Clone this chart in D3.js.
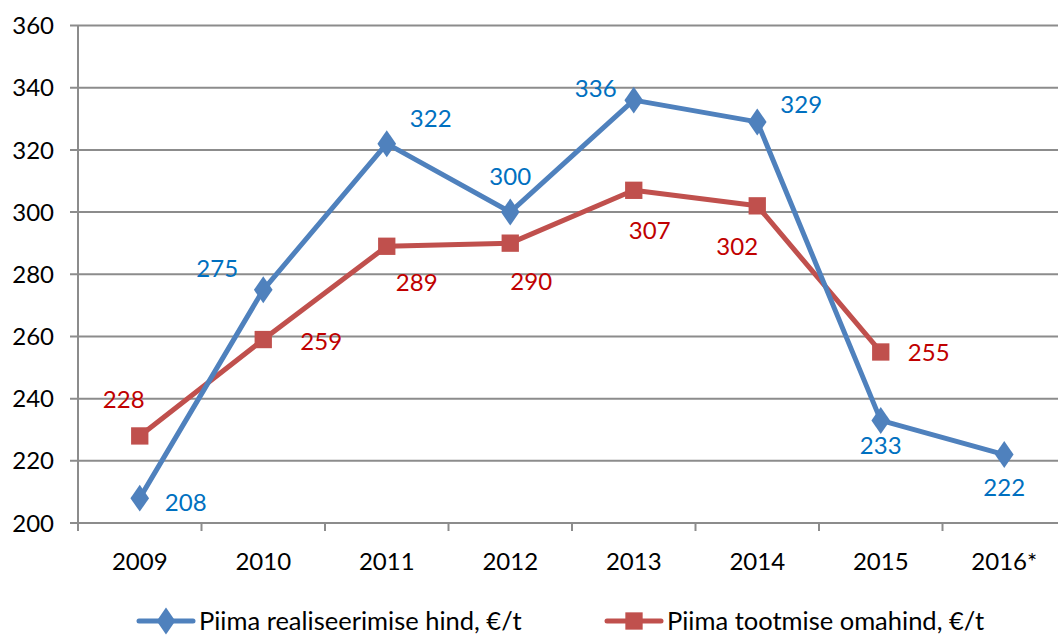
<!DOCTYPE html>
<html lang="et">
<head>
<meta charset="UTF-8">
<title>Piima hind</title>
<script src="https://cdn.jsdelivr.net/npm/d3@7"></script>
<style>
  body { margin: 0; background: #fff; }
  text { font-family: Lato, "Open Sans", sans-serif; }
</style>
</head>
<body>
<svg></svg>
<script>
const years = ['2009', '2010', '2011', '2012', '2013', '2014', '2015', '2016*'];
const realiseerimine = [208, 275, 322, 300, 336, 329, 233, 222];
const omahind = [228, 259, 289, 290, 307, 302, 255];
const yTicks = [200, 220, 240, 260, 280, 300, 320, 340, 360];
const seriesNames = ['Piima realiseerimise hind, €/t', 'Piima tootmise omahind, €/t'];

// label offsets (dx, dy) for each point
const blueLabelPos = [[46, 4], [-46, -21], [44, -25], [0, -36], [-38, -12], [44, -18], [0, 25], [0, 33]];
const redLabelPos = [[-16, -37], [58, 2], [30, 36], [21, 38], [16, 40], [-20, 41], [48, 0]];

const W = 1058, H = 637;
const m = { left: 78, top: 25.5, bottom: 523 };
const svg = d3.select('svg').attr('width', W).attr('height', H);

const x = d3.scaleBand().domain(years).range([m.left, m.left + 8 * 123.5]);
const y = d3.scaleLinear().domain([200, 360]).range([m.bottom, m.top]);

const grid = '#8c8c8c';
const fs = 24;

// gridlines + y ticks
svg.append('g').selectAll('line').data(yTicks).join('line')
  .attr('x1', m.left - 8).attr('x2', W)
  .attr('y1', d => y(d)).attr('y2', d => y(d))
  .attr('stroke', grid).attr('stroke-width', 2);

svg.append('g').selectAll('text').data(yTicks).join('text')
  .attr('x', 54).attr('y', d => y(d)).attr('dy', '0.36em')
  .attr('text-anchor', 'end').attr('font-size', fs).attr('fill', '#000')
  .text(d => d);

// y axis line
svg.append('line').attr('x1', m.left).attr('x2', m.left)
  .attr('y1', m.top).attr('y2', m.bottom + 8)
  .attr('stroke', grid).attr('stroke-width', 2);

// x ticks at band boundaries
const bounds = years.map(d => x(d)).concat([x(years[years.length - 1]) + x.bandwidth()]).slice(1);
svg.append('g').selectAll('line').data(bounds).join('line')
  .attr('x1', d => d).attr('x2', d => d)
  .attr('y1', m.bottom).attr('y2', m.bottom + 8)
  .attr('stroke', grid).attr('stroke-width', 2);

svg.append('g').selectAll('text').data(years).join('text')
  .attr('x', d => x(d) + x.bandwidth() / 2).attr('y', 570)
  .attr('text-anchor', 'middle').attr('font-size', fs).attr('fill', '#000')
  .text(d => d);

const cx = i => x(years[i]) + x.bandwidth() / 2;
const line = d3.line().x((d, i) => cx(i)).y(d => y(d));

const blue = '#4f81bd', red = '#c0504d';
const diamond = d3.symbol().type(d3.symbolDiamond).size(210);
const square = d3.symbol().type(d3.symbolSquare).size(300);

// red series
svg.append('path').datum(omahind).attr('d', line)
  .attr('fill', 'none').attr('stroke', red).attr('stroke-width', 5).attr('stroke-linejoin', 'round');
// blue series
svg.append('path').datum(realiseerimine).attr('d', line)
  .attr('fill', 'none').attr('stroke', blue).attr('stroke-width', 5).attr('stroke-linejoin', 'round');

svg.append('g').selectAll('path').data(omahind).join('path')
  .attr('d', square).attr('fill', red)
  .attr('transform', (d, i) => `translate(${cx(i)},${y(d)})`);
svg.append('g').selectAll('path').data(realiseerimine).join('path')
  .attr('d', diamond).attr('fill', blue)
  .attr('transform', (d, i) => `translate(${cx(i)},${y(d)}) scale(1.2,1)`);

// data labels
svg.append('g').selectAll('text').data(realiseerimine).join('text')
  .attr('x', (d, i) => cx(i) + blueLabelPos[i][0])
  .attr('y', (d, i) => y(d) + blueLabelPos[i][1])
  .attr('dy', '0.36em').attr('text-anchor', 'middle')
  .attr('font-size', fs).attr('fill', '#0070c0')
  .text(d => d);
svg.append('g').selectAll('text').data(omahind).join('text')
  .attr('x', (d, i) => cx(i) + redLabelPos[i][0])
  .attr('y', (d, i) => y(d) + redLabelPos[i][1])
  .attr('dy', '0.36em').attr('text-anchor', 'middle')
  .attr('font-size', fs).attr('fill', '#c00000')
  .text(d => d);

// legend
const legend = [
  { name: seriesNames[0], color: blue, x: 139, marker: 'diamond' },
  { name: seriesNames[1], color: red, x: 607, marker: 'square' }
];
const lg = svg.append('g').selectAll('g').data(legend).join('g')
  .attr('transform', d => `translate(${d.x},621)`);
lg.append('line').attr('x1', 0).attr('x2', 54)
  .attr('stroke', d => d.color).attr('stroke-width', 5).attr('stroke-linecap', 'round');
lg.append('path')
  .attr('d', d => d.marker === 'diamond' ? diamond() : square())
  .attr('fill', d => d.color)
  .attr('transform', d => d.marker === 'diamond' ? 'translate(27,0) scale(1.2,1)' : 'translate(27,0)');
lg.append('text').attr('x', 60).attr('dy', '0.34em')
  .attr('font-size', 25.5).attr('fill', '#000')
  .text(d => d.name);
</script>
</body>
</html>
